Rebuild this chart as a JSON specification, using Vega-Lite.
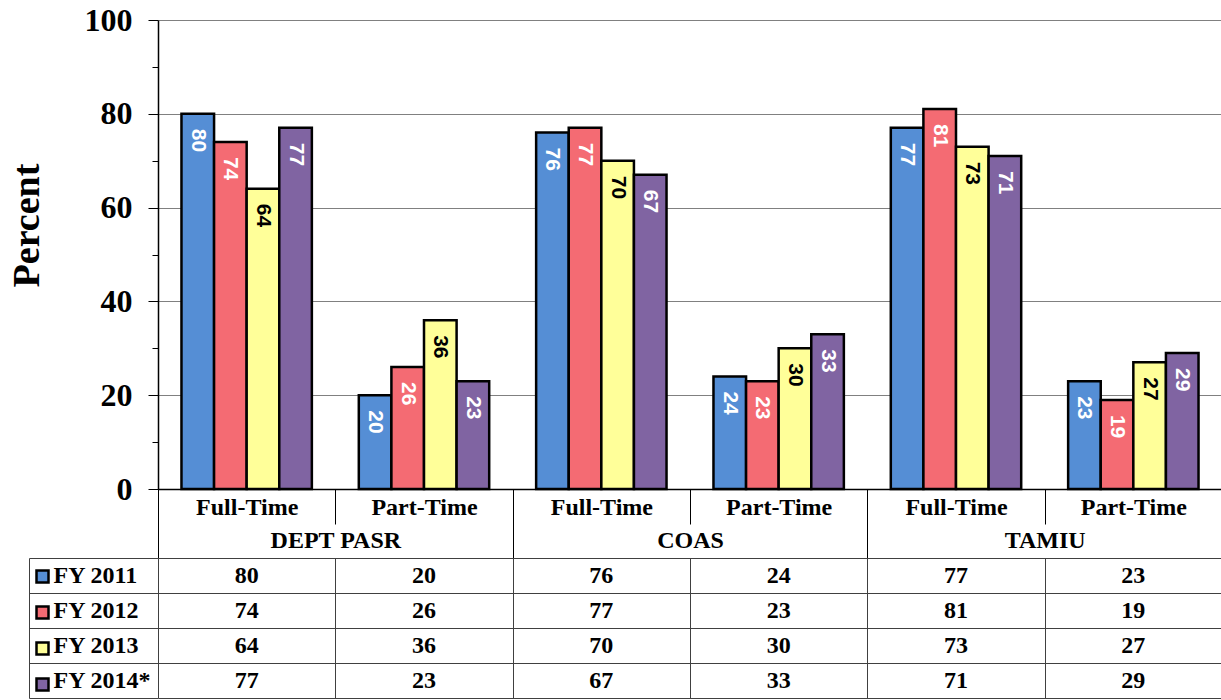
{
  "$schema": "https://vega.github.io/schema/vega-lite/v6.json",
  "padding": {"top": 4, "left": 8, "right": 0, "bottom": 0},
  "autosize": {"type": "pad"},
  "background": "white",
  "config": {"view": {"stroke": null}, "font": "Liberation Serif"},
  "datasets": {
    "d": [
      {"group": "DEPT PASR", "status": "Full-Time", "col": "DEPT PASR|Full-Time", "year": "FY 2011", "pct": 80},
      {"group": "DEPT PASR", "status": "Full-Time", "col": "DEPT PASR|Full-Time", "year": "FY 2012", "pct": 74},
      {"group": "DEPT PASR", "status": "Full-Time", "col": "DEPT PASR|Full-Time", "year": "FY 2013", "pct": 64},
      {"group": "DEPT PASR", "status": "Full-Time", "col": "DEPT PASR|Full-Time", "year": "FY 2014*", "pct": 77},
      {"group": "DEPT PASR", "status": "Part-Time", "col": "DEPT PASR|Part-Time", "year": "FY 2011", "pct": 20},
      {"group": "DEPT PASR", "status": "Part-Time", "col": "DEPT PASR|Part-Time", "year": "FY 2012", "pct": 26},
      {"group": "DEPT PASR", "status": "Part-Time", "col": "DEPT PASR|Part-Time", "year": "FY 2013", "pct": 36},
      {"group": "DEPT PASR", "status": "Part-Time", "col": "DEPT PASR|Part-Time", "year": "FY 2014*", "pct": 23},
      {"group": "COAS", "status": "Full-Time", "col": "COAS|Full-Time", "year": "FY 2011", "pct": 76},
      {"group": "COAS", "status": "Full-Time", "col": "COAS|Full-Time", "year": "FY 2012", "pct": 77},
      {"group": "COAS", "status": "Full-Time", "col": "COAS|Full-Time", "year": "FY 2013", "pct": 70},
      {"group": "COAS", "status": "Full-Time", "col": "COAS|Full-Time", "year": "FY 2014*", "pct": 67},
      {"group": "COAS", "status": "Part-Time", "col": "COAS|Part-Time", "year": "FY 2011", "pct": 24},
      {"group": "COAS", "status": "Part-Time", "col": "COAS|Part-Time", "year": "FY 2012", "pct": 23},
      {"group": "COAS", "status": "Part-Time", "col": "COAS|Part-Time", "year": "FY 2013", "pct": 30},
      {"group": "COAS", "status": "Part-Time", "col": "COAS|Part-Time", "year": "FY 2014*", "pct": 33},
      {"group": "TAMIU", "status": "Full-Time", "col": "TAMIU|Full-Time", "year": "FY 2011", "pct": 77},
      {"group": "TAMIU", "status": "Full-Time", "col": "TAMIU|Full-Time", "year": "FY 2012", "pct": 81},
      {"group": "TAMIU", "status": "Full-Time", "col": "TAMIU|Full-Time", "year": "FY 2013", "pct": 73},
      {"group": "TAMIU", "status": "Full-Time", "col": "TAMIU|Full-Time", "year": "FY 2014*", "pct": 71},
      {"group": "TAMIU", "status": "Part-Time", "col": "TAMIU|Part-Time", "year": "FY 2011", "pct": 23},
      {"group": "TAMIU", "status": "Part-Time", "col": "TAMIU|Part-Time", "year": "FY 2012", "pct": 19},
      {"group": "TAMIU", "status": "Part-Time", "col": "TAMIU|Part-Time", "year": "FY 2013", "pct": 27},
      {"group": "TAMIU", "status": "Part-Time", "col": "TAMIU|Part-Time", "year": "FY 2014*", "pct": 29}
    ]
  },
  "spacing": 69,
  "bounds": "flush",
  "resolve": {"scale": {"color": "independent"}, "legend": {"color": "independent"}},
  "vconcat": [
    {
      "width": 1064,
      "height": 469,
      "data": {"name": "d"},
      "resolve": {"scale": {"x": "independent"}, "axis": {"x": "independent"}},
      "layer": [
        {
          "encoding": {
            "x": {
              "field": "col", "type": "nominal", "sort": null,
              "scale": {"paddingInner": 0, "paddingOuter": 0},
              "axis": {
                "title": null, "orient": "bottom",
                "labelExpr": "split(datum.label, '|')[1]",
                "labelAngle": 0,
                "labelFont": "Liberation Serif", "labelFontWeight": "bold", "labelFontSize": 24, "labelColor": "black",
                "labelPadding": -29,
                "tickBand": "extent", "tickSize": 35, "tickColor": "black", "tickWidth": 1,
                "domainColor": "black", "domainWidth": 1.5,
                "grid": false
              }
            },
            "xOffset": {"field": "year", "type": "nominal", "sort": null, "scale": {"paddingInner": 0, "paddingOuter": 0.72}},
            "y": {
              "field": "pct", "type": "quantitative",
              "scale": {"domain": [0, 100], "nice": false},
              "axis": {
                "title": "Percent",
                "titleFont": "Liberation Serif", "titleFontSize": 38, "titleFontWeight": "bold", "titleColor": "black",
                "titleX": -131, "titleY": 205, "titleBaseline": "middle", "titleAlign": "center", "titleAngle": -90,
                "values": [0, 10, 20, 30, 40, 50, 60, 70, 80, 90, 100],
                "labelExpr": "datum.value % 20 === 0 ? datum.label : ''",
                "labelFont": "Liberation Serif", "labelFontSize": 32, "labelFontWeight": "bold", "labelColor": "black",
                "labelPadding": 16,
                "tickSize": {"condition": {"test": "datum.value % 20 === 0", "value": 10}, "value": 6},
                "tickColor": "black", "tickWidth": 1,
                "domainColor": "black", "domainWidth": 1.5,
                "grid": true, "gridColor": "#808080", "gridWidth": 1,
                "gridOpacity": {"condition": {"test": "datum.value % 20 === 0", "value": 1}, "value": 0}
              }
            }
          },
          "layer": [
            {
              "mark": {"type": "bar", "stroke": "black", "strokeWidth": 2.5},
              "encoding": {
                "color": {
                  "field": "year", "type": "nominal", "sort": null,
                  "scale": {"domain": ["FY 2011", "FY 2012", "FY 2013", "FY 2014*"], "range": ["#558ED5", "#F46B73", "#FFFF99", "#8064A2"]},
                  "legend": null
                }
              }
            },
            {
              "mark": {"type": "text", "angle": 90, "align": "left", "baseline": "middle", "dx": 15, "font": "Liberation Sans", "fontWeight": "bold", "fontSize": 21},
              "encoding": {
                "text": {"field": "pct", "type": "quantitative"},
                "color": {"condition": {"test": "datum.year === 'FY 2013'", "value": "black"}, "value": "white"}
              }
            }
          ]
        },
        {
          "mark": {"type": "point", "opacity": 0},
          "encoding": {
            "x": {
              "field": "group", "type": "nominal", "sort": ["DEPT PASR", "COAS", "TAMIU"],
              "scale": {"paddingInner": 0, "paddingOuter": 0},
              "axis": {
                "title": null, "orient": "bottom", "labelAngle": 0,
                "labelFont": "Liberation Serif", "labelFontWeight": "bold", "labelFontSize": 24, "labelColor": "black",
                "labelPadding": -30,
                "tickBand": "extent", "tickSize": 69, "tickColor": "black", "tickWidth": 1,
                "domain": false, "grid": false
              }
            }
          }
        }
      ]
    },
    {
      "width": 1064,
      "height": 140,
      "data": {"name": "d"},
      "encoding": {
        "x": {
          "field": "col", "type": "nominal", "sort": null,
          "scale": {"paddingInner": 0, "paddingOuter": 0},
          "axis": {"title": null, "labels": false, "ticks": false, "domain": false, "grid": true, "tickBand": "extent", "gridColor": "#404040", "gridWidth": 1, "minExtent": 0, "maxExtent": 0}
        },
        "y": {
          "field": "year", "type": "nominal", "sort": null,
          "scale": {"paddingInner": 0, "paddingOuter": 0},
          "axis": {
            "title": null, "grid": true, "tickBand": "extent", "gridColor": "#404040", "gridWidth": 1,
            "offset": 129, "tickSize": -129, "tickColor": "#404040", "tickWidth": 1,
            "domain": true, "domainColor": "#404040", "domainWidth": 1,
            "labelAlign": "left", "labelBaseline": "middle", "labelPadding": 105,
            "labelFont": "Liberation Serif", "labelFontSize": 24, "labelFontWeight": "bold", "labelColor": "black"
          }
        }
      },
      "layer": [
        {
          "mark": {"type": "text", "font": "Liberation Serif", "fontWeight": "bold", "fontSize": 24, "color": "black", "baseline": "middle"},
          "encoding": {"text": {"field": "pct", "type": "quantitative"}}
        },
        {
          "mark": {"type": "square", "filled": true, "opacity": 0},
          "encoding": {
            "color": {
              "field": "year", "type": "nominal", "sort": null,
              "scale": {"domain": ["FY 2011", "FY 2012", "FY 2013", "FY 2014*"], "range": ["#558ED5", "#F46B73", "#FFFF99", "#8064A2"]},
              "legend": {
                "orient": "none", "legendX": -123, "legendY": 11, "title": null,
                "symbolType": "square", "symbolSize": 144, "symbolStrokeColor": "black", "symbolStrokeWidth": 2.5,
                "symbolOpacity": 1, "labelExpr": "''", "rowPadding": 13, "padding": 0, "labelOffset": 0
              }
            }
          }
        }
      ]
    }
  ]
}
